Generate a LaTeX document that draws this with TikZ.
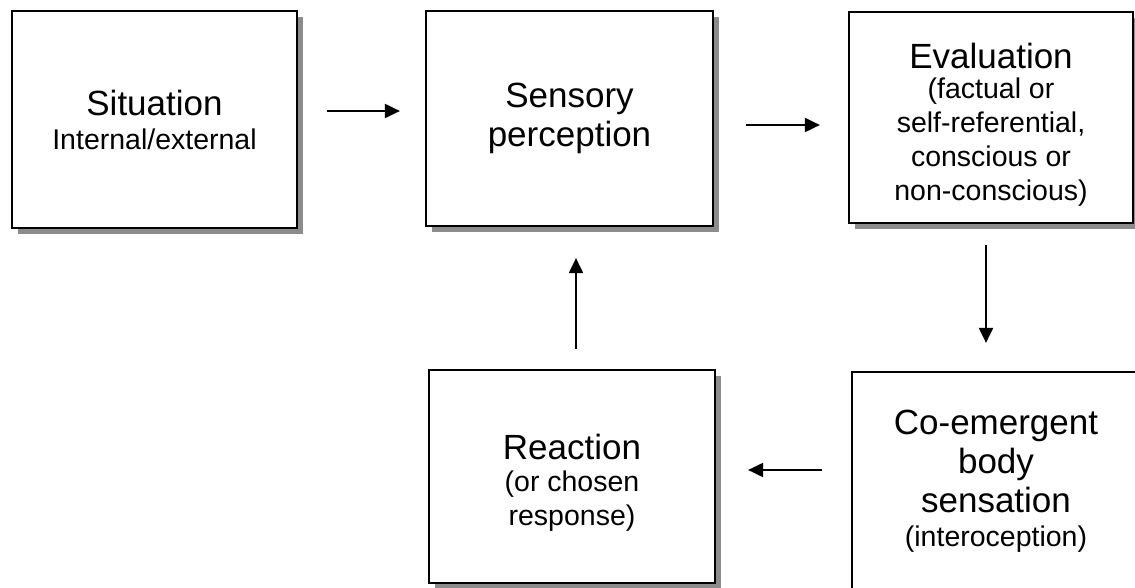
\documentclass[tikz,border=0pt]{standalone}
\usepackage{fontspec}
\setmainfont{Liberation Sans}
\usetikzlibrary{arrows.meta,shadows}

% heading size inside the boxes
\newcommand\headsize{\fontsize{35}{40}\selectfont}

\tikzset{
  stagebox/.style={draw=black, line width=2.8pt, fill=white, inner sep=0pt,
    align=center, font=\fontsize{28.5}{34}\selectfont,
    drop shadow={shadow xshift=6pt, shadow yshift=-6pt, fill=black!45, opacity=1}},
  flow/.style={line width=2pt, -{Triangle[length=15pt,width=14pt]}},
}

\begin{document}
\begin{tikzpicture}[x=1pt, y=-1pt]
\useasboundingbox (0,0) rectangle (1135,588);

\node[stagebox, minimum width=285pt, minimum height=217pt] (sit) at (154.5,119.5)
  {{\headsize Situation}\\Internal/external};
\node[stagebox, minimum width=287pt, minimum height=215pt] (sens) at (569.5,118.5)
  {{\headsize Sensory}\\[5pt]{\headsize perception}};
\node[stagebox, minimum width=284pt, minimum height=211pt] (eval) at (991,117.5)
  {\rule{0pt}{40pt}{\headsize Evaluation}\\[-4pt](factual or\\self-referential,\\conscious or\\non-conscious)};
\node[stagebox, minimum width=286pt, minimum height=213pt] (react) at (572,476.5)
  {\rule{0pt}{38pt}{\headsize Reaction}\\[-2pt](or chosen\\response)};
\node[stagebox, minimum width=288pt, minimum height=218pt] (body) at (996,481)
  {{\headsize Co-emergent}\\[5pt]{\headsize body}\\[5pt]{\headsize sensation}\\(interoception)};

\draw[flow, shorten <=29pt, shorten >=24.7pt]
  ([yshift=8.5pt]sit.east) -- ([yshift=8.5pt]sit.east -| sens.west);
\draw[flow, shorten <=31.7pt, shorten >=27.7pt]
  ([yshift=-6.5pt]sens.east) -- ([yshift=-6.5pt]sens.east -| eval.west);
\draw[flow, shorten <=20.7pt, shorten >=27.7pt]
  ([xshift=-5pt]eval.south) -- ([xshift=-5pt]eval.south |- body.north);
\draw[flow, shorten <=28.7pt, shorten >=31.7pt]
  ([yshift=11pt]body.west) -- ([yshift=11pt]body.west -| react.east);
\draw[flow, shorten <=19.7pt, shorten >=30.7pt]
  ([xshift=4pt]react.north) -- ([xshift=4pt]react.north |- sens.south);
\end{tikzpicture}
\end{document}
